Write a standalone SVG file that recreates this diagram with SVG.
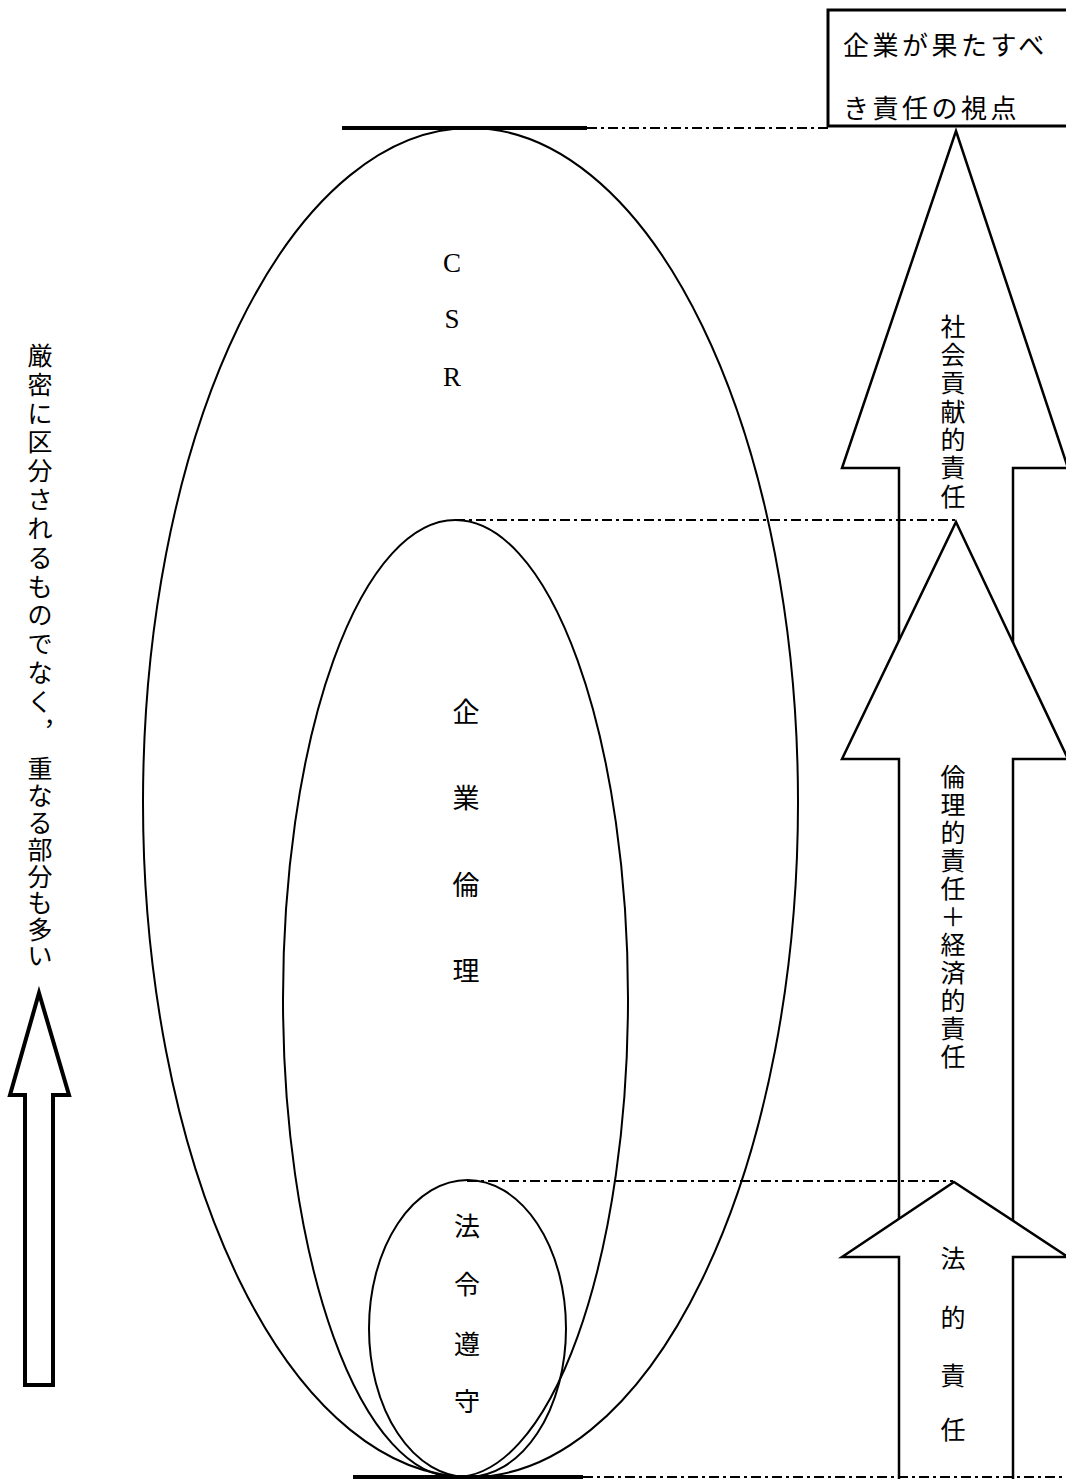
<svg xmlns="http://www.w3.org/2000/svg" width="1066" height="1479" viewBox="0 0 1066 1479">
<style>
.jp{font-family:"Noto Sans CJK JP","Noto Sans CJK SC",sans-serif;fill:#000;dominant-baseline:central;text-anchor:middle}
.lat{font-family:"Liberation Serif",serif;fill:#000;dominant-baseline:central;text-anchor:middle;font-size:27px}
.ell{fill:none;stroke:#000;stroke-width:2}
.arr{fill:#fff;stroke:#000;stroke-width:2.5;stroke-linejoin:miter}
.dd{stroke:#000;stroke-width:2;stroke-dasharray:10 4 3 4;fill:none}
.solid{stroke:#000;stroke-width:4}
</style>
<rect width="1066" height="1479" fill="#fff"/>

<g id="csr">
<ellipse class="ell" cx="470.5" cy="802.5" rx="327.5" ry="674.5"/>
<text class="lat"><tspan x="452" y="263">C</tspan><tspan x="452" y="319">S</tspan><tspan x="452" y="377">R</tspan></text>
</g>

<g id="kigyo-rinri">
<ellipse class="ell" cx="455.5" cy="998.5" rx="172.5" ry="478.5"/>
<text class="jp" font-size="27"><tspan x="466" y="710">企</tspan><tspan x="466" y="796">業</tspan><tspan x="466" y="883">倫</tspan><tspan x="466" y="969">理</tspan></text>
</g>

<g id="horei-junshu">
<ellipse class="ell" cx="467.5" cy="1328.5" rx="98.5" ry="148.5"/>
<text class="jp" font-size="26"><tspan x="467" y="1224">法</tspan><tspan x="467" y="1282">令</tspan><tspan x="467" y="1342">遵</tspan><tspan x="467" y="1399">守</tspan></text>
</g>

<g id="left-note">
<text class="jp" font-size="25">
<tspan x="40" y="354">厳</tspan><tspan x="40" y="383">密</tspan><tspan x="40" y="412">に</tspan><tspan x="40" y="440">区</tspan><tspan x="40" y="469">分</tspan><tspan x="40" y="498">さ</tspan><tspan x="40" y="527">れ</tspan><tspan x="40" y="556">る</tspan><tspan x="40" y="585">も</tspan><tspan x="40" y="613">の</tspan><tspan x="40" y="642">で</tspan><tspan x="40" y="671">な</tspan><tspan x="40" y="700">く</tspan><tspan x="56" y="714">，</tspan><tspan x="40" y="767">重</tspan><tspan x="40" y="794">な</tspan><tspan x="40" y="821">る</tspan><tspan x="40" y="848">部</tspan><tspan x="40" y="875">分</tspan><tspan x="40" y="901">も</tspan><tspan x="40" y="928">多</tspan><tspan x="40" y="954">い</tspan>
</text>
</g>

<g id="left-arrow">
<path d="M39,993 L69,1095 L53,1095 L53,1385 L25,1385 L25,1095 L10,1095 Z" fill="#fff" stroke="#000" stroke-width="4" stroke-linejoin="miter"/>
</g>

<g id="arrow-social">
<path class="arr" d="M956,131 L1068,468 L1013,468 L1013,700 L899,700 L899,468 L842,468 Z"/>
<text class="jp" font-size="25"><tspan x="953" y="325">社</tspan><tspan x="953" y="353">会</tspan><tspan x="953" y="381">貢</tspan><tspan x="953" y="410">献</tspan><tspan x="953" y="438">的</tspan><tspan x="953" y="466">責</tspan><tspan x="953" y="495">任</tspan></text>
</g>

<g id="arrow-ethical">
<path class="arr" d="M956,522 L1068,759 L1013,759 L1013,1240 L899,1240 L899,759 L842,759 Z"/>
<text class="jp" font-size="25"><tspan x="953" y="775">倫</tspan><tspan x="953" y="803">理</tspan><tspan x="953" y="831">的</tspan><tspan x="953" y="859">責</tspan><tspan x="953" y="887">任</tspan><tspan x="953" y="915">＋</tspan><tspan x="953" y="943">経</tspan><tspan x="953" y="971">済</tspan><tspan x="953" y="999">的</tspan><tspan x="953" y="1027">責</tspan><tspan x="953" y="1055">任</tspan></text>
</g>

<g id="arrow-legal">
<path class="arr" d="M954,1182 L1068,1257 L1013,1257 L1013,1485 L899,1485 L899,1257 L842,1257 Z"/>
<text class="jp" font-size="25"><tspan x="953" y="1257">法</tspan><tspan x="953" y="1316">的</tspan><tspan x="953" y="1374">責</tspan><tspan x="953" y="1428">任</tspan></text>
</g>

<g id="viewpoint-box">
<rect x="828" y="10" width="250" height="116" fill="#fff" stroke="#000" stroke-width="3"/>
<text class="jp" font-size="26" style="text-anchor:start" letter-spacing="3.5"><tspan x="843" y="43">企業が果たすべ</tspan><tspan x="843" y="106">き責任の視点</tspan></text>
</g>

<g id="connectors">
<line class="solid" x1="342" y1="128" x2="587" y2="128"/>
<line class="dd" x1="587" y1="128" x2="828" y2="128"/>
<line class="dd" x1="455" y1="520" x2="955" y2="520"/>
<line class="dd" x1="467" y1="1181" x2="953" y2="1181"/>
<line class="solid" x1="353" y1="1477" x2="583" y2="1477"/>
<line class="dd" x1="583" y1="1477" x2="1066" y2="1477"/>
</g>
</svg>
